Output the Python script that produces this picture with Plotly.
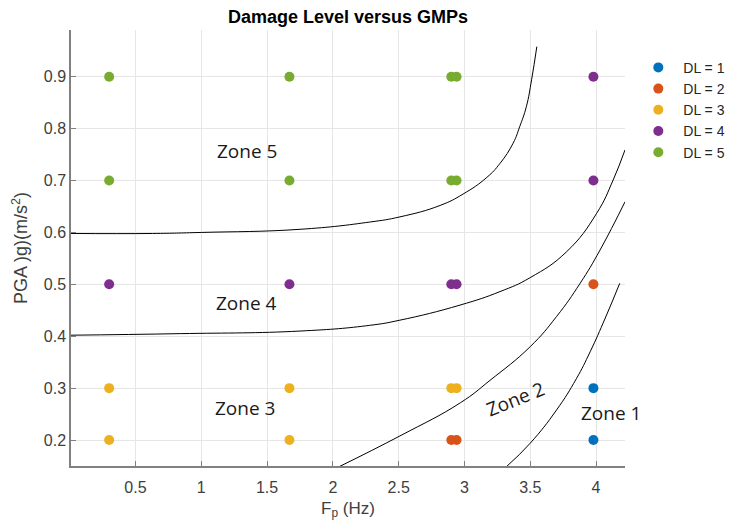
import plotly.graph_objects as go

# ---------------- data ----------------
dl_names = ["DL = 1", "DL = 2", "DL = 3", "DL = 4", "DL = 5"]
dl_colors = ["#0072BD", "#D95319", "#EDB120", "#7E2F8E", "#77AC30"]

dl1_x = [3.98, 3.98]
dl1_y = [0.3, 0.2]
dl2_x = [3.98, 2.90, 2.94]
dl2_y = [0.5, 0.2, 0.2]
dl3_x = [0.30, 0.30, 1.67, 1.67, 2.90, 2.94]
dl3_y = [0.3, 0.2, 0.3, 0.2, 0.3, 0.3]
dl4_x = [0.30, 1.67, 2.90, 2.94, 3.98, 3.98]
dl4_y = [0.5, 0.5, 0.5, 0.5, 0.9, 0.7]
dl5_x = [0.30, 0.30, 1.67, 1.67, 2.90, 2.94, 2.90, 2.94]
dl5_y = [0.9, 0.7, 0.9, 0.7, 0.9, 0.9, 0.7, 0.7]

# zone boundary curves
b5_x = [0.01, 0.63, 1.0, 1.75, 2.28, 2.51, 2.815, 2.99, 3.17, 3.27, 3.37, 3.42, 3.47, 3.51, 3.55]
b5_y = [0.598, 0.598, 0.600, 0.606, 0.620, 0.630, 0.652, 0.674, 0.706, 0.733, 0.772, 0.804, 0.842, 0.894, 0.958]

b4_x = [0.01, 0.84, 1.75, 2.28, 2.51, 2.966, 3.27, 3.50, 3.777, 4.005, 4.13, 4.22]
b4_y = [0.402, 0.405, 0.410, 0.421, 0.431, 0.460, 0.486, 0.513, 0.563, 0.637, 0.701, 0.759]

b3_x = [2.05, 2.51, 2.97, 3.194, 3.50, 3.70, 3.879, 4.03, 4.22]
b3_y = [0.149, 0.208, 0.272, 0.315, 0.380, 0.438, 0.502, 0.566, 0.659]

b2_x = [3.32, 3.50, 3.70, 3.85, 3.955, 4.07, 4.18]
b2_y = [0.149, 0.194, 0.258, 0.318, 0.370, 0.435, 0.502]

zone_text = ["Zone 5", "Zone 4", "Zone 3", "Zone 2", "Zone 1"]
zone_x = [1.35, 1.345, 1.33, 3.385, 4.11]
zone_y = [0.757, 0.465, 0.261, 0.280, 0.253]
zone_angle = [0, 0, 0, -22, 0]

x_ticks = [0.5, 1, 1.5, 2, 2.5, 3, 3.5, 4]
x_ticktext = ["0.5", "1", "1.5", "2", "2.5", "3", "3.5", "4"]
y_ticks = [0.2, 0.3, 0.4, 0.5, 0.6, 0.7, 0.8, 0.9]
y_ticktext = ["0.2", "0.3", "0.4", "0.5", "0.6", "0.7", "0.8", "0.9"]

# ---------------- figure ----------------
fig = go.Figure()

for xs, ys in [(b5_x, b5_y), (b4_x, b4_y), (b3_x, b3_y), (b2_x, b2_y)]:
    fig.add_trace(go.Scatter(x=xs, y=ys, mode="lines",
                             line=dict(color="black", width=1, shape="spline", smoothing=1.3),
                             showlegend=False, hoverinfo="skip"))

series = [(dl1_x, dl1_y), (dl2_x, dl2_y), (dl3_x, dl3_y), (dl4_x, dl4_y), (dl5_x, dl5_y)]
for (xs, ys), name, col in zip(series, dl_names, dl_colors):
    fig.add_trace(go.Scatter(x=xs, y=ys, mode="markers", name=name,
                             marker=dict(color=col, size=10, line=dict(width=0))))

for t, x, y, a in zip(zone_text, zone_x, zone_y, zone_angle):
    fig.add_annotation(x=x, y=y, text=t, showarrow=False, textangle=a,
                       font=dict(family="Open Sans", size=19, color="#1a1a1a"))

tick_font = dict(family="Liberation Sans, Arial", size=16, color="#404040")
fig.update_xaxes(range=[0.01, 4.22], tickvals=x_ticks, ticktext=x_ticktext,
                 showgrid=True, gridcolor="#e6e6e6", gridwidth=1,
                 showline=True, linecolor="#808080", linewidth=1.5, mirror=False,
                 ticks="inside", ticklen=5, tickcolor="#808080", zeroline=False,
                 tickfont=tick_font, automargin=False, ticklabelstandoff=6,
                 title=dict(text="F<sub>p</sub> (Hz)", standoff=7,
                            font=dict(family="Liberation Sans, Arial", size=17, color="#404040")))
fig.update_yaxes(range=[0.15, 0.99], tickvals=y_ticks, ticktext=y_ticktext,
                 showgrid=True, gridcolor="#e6e6e6", gridwidth=1,
                 showline=True, linecolor="#808080", linewidth=1.5, mirror=False,
                 ticks="inside", ticklen=5, tickcolor="#808080", zeroline=False,
                 tickfont=tick_font, automargin=False,
                 title=dict(text="PGA )g)(m/s<sup>2</sup>)", standoff=11,
                            font=dict(family="Liberation Sans, Arial", size=18, color="#404040")))

# the page body adds an 8px offset, so the figure is sized to fill the rest of the 735x528 window
fig.update_layout(
    width=727, height=520,
    margin=dict(l=63, r=110, t=22, b=62, autoexpand=False),
    plot_bgcolor="white", paper_bgcolor="white",
    title=dict(text="<b>Damage Level versus GMPs</b>", x=0.5, xanchor="center",
               xref="paper", y=0.983, yanchor="middle",
               font=dict(family="Liberation Sans, Arial", size=18, color="#000000")),
    legend=dict(x=1.015, y=0.95, xanchor="left", yanchor="top",
                font=dict(family="Liberation Sans, Arial", size=14, color="#262626"),
                bgcolor="rgba(0,0,0,0)", tracegroupgap=0, itemwidth=40),
)

fig.write_html("out.html")
